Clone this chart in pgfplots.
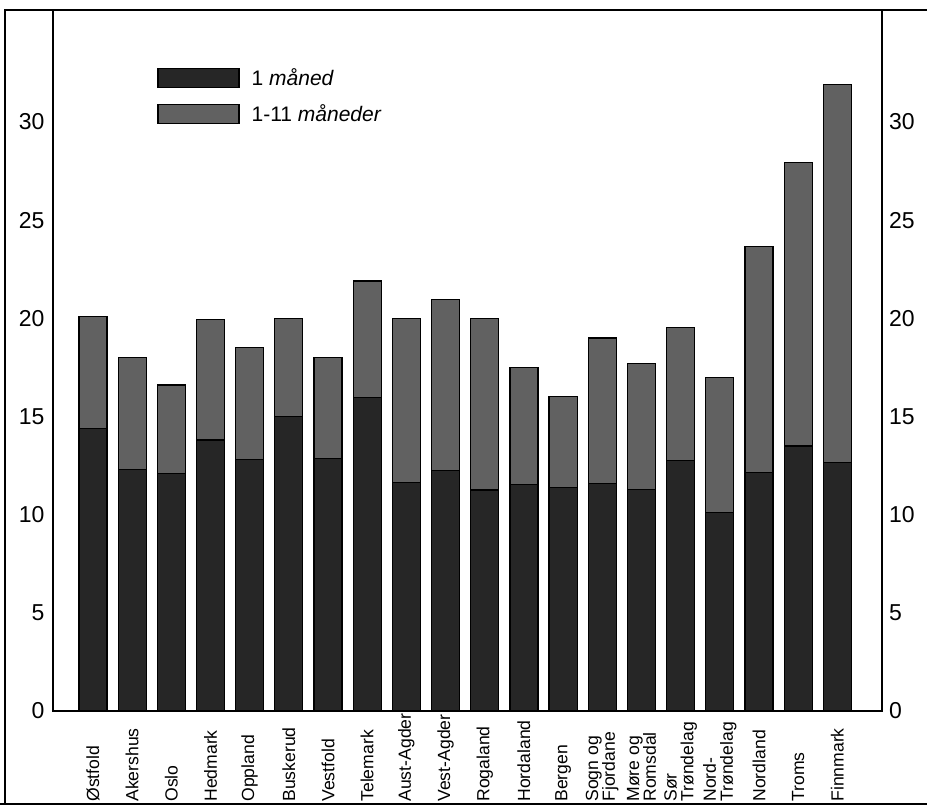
\documentclass[border=0pt]{standalone}
\usepackage{pgfplots}
\usepackage{pgfplotstable}
\pgfplotsset{compat=1.18}
\usepackage{fontspec}
\setmainfont{Liberation Sans}
\definecolor{barlow}{gray}{0.15}
\definecolor{barhigh}{gray}{0.38}
\pgfplotstableread{
x a b
0 14.40 5.70
1 12.30 5.70
2 12.10 4.50
3 13.80 6.15
4 12.80 5.70
5 15.00 5.00
6 12.85 5.15
7 15.95 5.95
8 11.65 8.35
9 12.25 8.70
10 11.25 8.75
11 11.55 5.95
12 11.40 4.60
13 11.60 7.40
14 11.30 6.40
15 12.75 6.80
16 10.10 6.90
17 12.15 11.50
18 13.50 14.45
19 12.65 19.25
}\data
\begin{document}
\begin{tikzpicture}
\path[use as bounding box] (-26.5pt,-47.5pt) rectangle (437pt,355.5pt);
\pgfplotsset{
  common/.style={
    scale only axis, width=414.5pt, height=350.5pt,
    xmin=-1.02, xmax=20.14, ymin=0, ymax=35.7,
    ytick={0,5,...,30}, major tick length=0pt,
    /pgf/number format/assume math mode=true,
    yticklabel style={font=\fontsize{11.5}{12}\selectfont},
    axis line style={line width=0.7pt},
  }
}
\begin{axis}[common,
  ybar stacked, bar width=0.715,
  xtick={0,...,19},
  xticklabels={Østfold,Akershus,Oslo,Hedmark,Oppland,Buskerud,Vestfold,Telemark,Aust-Agder,Vest-Agder,Rogaland,Hordaland,Bergen,{Sogn og\\Fjordane},{Møre og\\Romsdal},{Sør\\Trøndelag},{Nord-\\Trøndelag},Nordland,Troms,Finnmark},
  xticklabel shift=45.5pt,
  xticklabel style={rotate=90, anchor=west, align=left, inner xsep=0pt, inner ysep=0pt, font=\fontsize{8.8}{8.4}\selectfont},
  yticklabel style={xshift=-0.7pt},
  ytick pos=left,
  legend style={at={(0.1255,0.923)}, anchor=north west, draw=none, fill=none, font=\fontsize{10.5}{12}\selectfont, row sep=4pt, inner sep=0pt, nodes={inner xsep=6pt}},
  legend cell align=left,
  legend image code/.code={\draw[#1] (0pt,-4.75pt) rectangle (40.5pt,4.75pt);},
]
\addplot[fill=barlow, draw=black, line width=0.6pt] table[x=x,y=a] {\data};
\addplot[fill=barhigh, draw=black, line width=0.6pt] table[x=x,y=b] {\data};
\legend{1 \textit{måned}, 1-11 \textit{måneder}}
\end{axis}
\begin{axis}[common, axis x line=none, axis y line*=right, yticklabel pos=right]
\end{axis}
\draw[line width=0.7pt] (-24pt,-46.5pt) -- (-24pt,350.5pt) -- (437pt,350.5pt);
\draw[line width=0.7pt] (-26.5pt,-46.5pt) -- (437pt,-46.5pt);
\end{tikzpicture}
\end{document}
